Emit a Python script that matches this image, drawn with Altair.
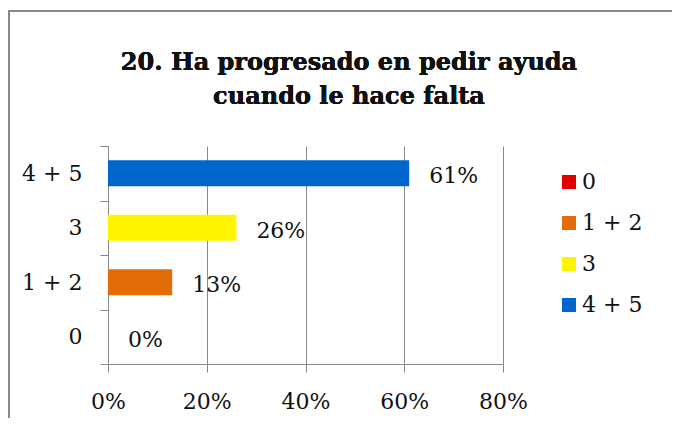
import altair as alt
import pandas as pd

categories = ["0", "1 + 2", "3", "4 + 5"]
values = [0.0, 0.13, 0.26, 0.61]
colors = ["#E00000", "#E36C09", "#FFF500", "#0066CC"]
title_lines = ["20. Ha progresado en pedir ayuda", "cuando le hace falta"]

df = pd.DataFrame({"cat": categories, "val": values})

FONT = "DejaVu Serif"
order_top_down = ["4 + 5", "3", "1 + 2", "0"]

y_enc = alt.Y(
    "cat:N",
    sort=order_top_down,
    title=None,
    scale=alt.Scale(paddingInner=0, paddingOuter=0),
    axis=alt.Axis(
        labelFont=FONT, labelFontSize=22, labelColor="#111", labelPadding=18,
        tickSize=8, tickColor="#888", domainColor="#888", tickBand="extent",
        grid=False,
    ),
)

x_enc = alt.X(
    "val:Q",
    title=None,
    scale=alt.Scale(domain=[0, 0.8], nice=False),
    axis=alt.Axis(
        format=".0%", values=[0, 0.2, 0.4, 0.6, 0.8], labelFlush=False,
        labelFont=FONT, labelFontSize=22, labelColor="#111", labelPadding=19,
        tickSize=8, tickColor="#888", domainColor="#888",
        grid=True, gridColor="#888", gridWidth=1,
    ),
)

bars = alt.Chart(df).mark_bar(height=alt.RelativeBandSize(band=0.48)).encode(
    x=x_enc,
    y=y_enc,
    color=alt.Color(
        "cat:N",
        scale=alt.Scale(domain=categories, range=colors),
        legend=alt.Legend(
            title=None, orient="none", legendX=450, legendY=25,
            symbolType="square", symbolSize=196, symbolStrokeWidth=0,
            labelFont=FONT, labelFontSize=22, labelColor="#111",
            rowPadding=19, labelOffset=2,
        ),
    ),
)

labels = alt.Chart(df).mark_text(
    align="left", baseline="middle", dx=20, dy=3, font=FONT, fontSize=22, color="#111"
).encode(
    x="val:Q",
    y=alt.Y("cat:N", sort=order_top_down),
    text=alt.Text("val:Q", format=".0%"),
)

frame_left = alt.Chart(df).mark_rule(color="#888", strokeWidth=2).encode(
    x=alt.value(-99), y=alt.value(-135), y2=alt.value(400)
)
frame_top = alt.Chart(df).mark_rule(color="#888", strokeWidth=2).encode(
    x=alt.value(-100), x2=alt.value(600), y=alt.value(-135)
)

title1 = alt.Chart(df).mark_text(
    font=FONT, fontSize=24, fontWeight="bold", color="#111",
    align="center", baseline="alphabetic",
).encode(x=alt.value(241), y=alt.value(-76), text=alt.value(title_lines[0]))

title2 = alt.Chart(df).mark_text(
    font=FONT, fontSize=24, fontWeight="bold", color="#111",
    align="center", baseline="alphabetic",
).encode(x=alt.value(241), y=alt.value(-42), text=alt.value(title_lines[1]))

chart = alt.layer(frame_left, frame_top, title1, title2, bars, labels).properties(
    width=395,
    height=218,
    padding={"left": 100, "top": 138, "right": 169, "bottom": 54},
    autosize=alt.AutoSizeParams(type="none"),
).configure_view(strokeWidth=0)

chart.save("out.html", embed_options={"renderer": "svg", "actions": False})
